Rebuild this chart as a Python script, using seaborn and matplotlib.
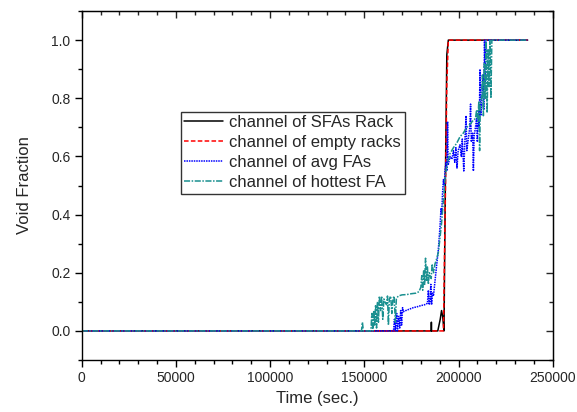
import numpy as np
import pandas as pd
import matplotlib
matplotlib.use("Agg")
import matplotlib.pyplot as plt
import seaborn as sns
from matplotlib.ticker import MultipleLocator

# channel of SFAs Rack
t_sfa = [0, 185500, 185600, 185700, 189000, 190300, 191000, 191600, 192300,
         193000, 193800, 194600, 236700]
v_sfa = [0, 0, 0.03, 0, 0, 0.04, 0.07, 0.05, 0, 0.5, 0.95, 1.0, 1.0]

# channel of empty racks
t_empty = [0, 192000, 193000, 193800, 194600, 236700]
v_empty = [0, 0, 0.45, 0.85, 1.0, 1.0]

# channel of avg FAs
t_avg = [0, 164000, 165500, 166000, 166500, 167200, 167600, 168200, 168800,
         169300, 169800, 170300, 170700, 172000, 174000, 176000, 178000,
         180000, 182000, 183500, 184000, 184400, 184900, 185300, 185700,
         186200, 186700, 187500, 188300, 189300, 190200, 190700, 191100,
         191500, 192000, 192500, 192800, 193400, 193800, 194200, 194500,
         195500, 196500, 197300, 198000, 198600, 199200, 199800, 200800,
         201500, 202000, 202800, 203300, 204000, 204400, 205200, 206000,
         206400, 206800, 207500, 207900, 208300, 209000, 209600, 210000,
         210600, 211000, 211400, 211800, 212400, 213000, 213400, 213800,
         214200, 214600, 236700]
v_avg = [0, 0, 0, 0.04, 0, 0.06, 0, 0.05, 0.01,
         0.07, 0.02, 0.08, 0.066, 0.07, 0.075, 0.08, 0.083,
         0.087, 0.09, 0.095, 0.14, 0.09, 0.10, 0.16, 0.09,
         0.13, 0.12, 0.17, 0.22, 0.28, 0.36, 0.42, 0.40,
         0.47, 0.52, 0.50, 0.55, 0.58, 0.55, 0.72, 0.57,
         0.60, 0.59, 0.62, 0.58, 0.63, 0.56, 0.62, 0.64,
         0.60, 0.66, 0.55, 0.64, 0.74, 0.62, 0.66, 0.70,
         0.78, 0.65, 0.68, 0.55, 0.67, 0.70, 0.73, 0.65,
         0.76, 0.70, 0.90, 0.74, 0.80, 0.88, 0.76, 1.0,
         0.85, 1.0, 1.0]

# channel of hottest FA
t_hot = [0, 148500, 149000, 149500, 153500, 154000, 154500, 155000, 155500,
         156000, 156500, 157000, 157500, 158000, 158600, 159200, 159800,
         160400, 161000, 161800, 162300, 162800, 163300, 164000, 164600,
         165200, 165800, 166500, 167000, 168000, 170000, 172500, 175000,
         177500, 179000, 180000, 180500, 181000, 181500, 182000, 182500,
         183000, 183500, 184000, 184500, 185500, 186000, 186800, 187500,
         188500, 189300, 190000, 191000, 192000, 192800, 193600, 194600,
         195500, 197300, 199000, 200800, 202500, 204400, 206000, 207900,
         209000, 209600, 210200, 210800, 211200, 211600, 212200, 212700,
         213200, 213700, 214200, 214700, 215200, 215700, 216200, 216700,
         217200, 217700, 218500, 236700]
v_hot = [0, 0, 0.03, 0, 0, 0.06, 0, 0.07, 0.02,
         0.09, 0.01, 0.10, 0.03, 0.12, 0.07, 0.12, 0.04,
         0.11, 0.10, 0.09, 0.12, 0.02, 0.11, 0.12, 0.06,
         0.11, 0.12, 0.03, 0.11, 0.12, 0.124, 0.125, 0.128,
         0.13, 0.135, 0.15, 0.19, 0.14, 0.21, 0.16, 0.25,
         0.17, 0.22, 0.16, 0.20, 0.18, 0.23, 0.20, 0.23,
         0.25, 0.27, 0.31, 0.37, 0.45, 0.52, 0.56, 0.59,
         0.61, 0.63, 0.645, 0.668, 0.68, 0.70, 0.71, 0.725,
         0.73, 0.76, 0.72, 0.79, 0.62, 0.78, 0.80, 0.88,
         0.74, 0.92, 0.80, 1.0, 0.75, 0.97, 0.84, 1.0,
         0.80, 1.0, 1.0, 1.0]

series = [
    ("channel of SFAs Rack", t_sfa, v_sfa, "black", "-"),
    ("channel of empty racks", t_empty, v_empty, "#ff0000", (0, (3, 1.5))),
    ("channel of avg FAs", t_avg, v_avg, "#0000ff", (0, (1, 0.6))),
    ("channel of hottest FA", t_hot, v_hot, "#1a9090", (0, (4, 1, 1, 1))),
]

sns.set_style("ticks")
plt.rcParams["font.family"] = ["Liberation Sans", "DejaVu Sans"]

fig = plt.figure(figsize=(5.77, 4.12), dpi=100)
ax = fig.add_axes([0.1416, 0.1262, 0.8163, 0.847])

for name, t, v, col, ls in series:
    df = pd.DataFrame({"t": t, "v": v})
    sns.lineplot(data=df, x="t", y="v", ax=ax, color=col, linestyle=ls,
                 linewidth=1.1, estimator=None, sort=False, label=name)

ax.set_xlim(0, 250000)
ax.set_ylim(-0.1, 1.1)
ax.xaxis.set_major_locator(MultipleLocator(50000))
ax.xaxis.set_minor_locator(MultipleLocator(10000))
ax.yaxis.set_major_locator(MultipleLocator(0.2))
ax.yaxis.set_minor_locator(MultipleLocator(0.1))
ax.yaxis.set_major_formatter(matplotlib.ticker.FormatStrFormatter("%.1f"))
ax.tick_params(which="major", direction="out", length=5, width=1,
               labelsize=10, color="black", pad=3)
ax.tick_params(which="minor", direction="out", length=3, width=1,
               color="black")
for s in ax.spines.values():
    s.set_visible(True)
    s.set_linewidth(1)
    s.set_color("black")

# mirrored ticks on top and right, pointing inward
top = ax.secondary_xaxis("top")
top.xaxis.set_major_locator(MultipleLocator(50000))
top.xaxis.set_minor_locator(MultipleLocator(10000))
top.tick_params(which="major", direction="in", length=5, width=1, labeltop=False)
top.tick_params(which="minor", direction="in", length=3, width=1)
right = ax.secondary_yaxis("right")
right.yaxis.set_major_locator(MultipleLocator(0.2))
right.yaxis.set_minor_locator(MultipleLocator(0.1))
right.tick_params(which="major", direction="in", length=5, width=1, labelright=False)
right.tick_params(which="minor", direction="in", length=3, width=1)

ax.set_xlabel("Time (sec.)", fontsize=12, labelpad=4)
ax.set_ylabel("Void Fraction", fontsize=12, labelpad=14)

leg = ax.legend(loc="upper left", bbox_to_anchor=(0.211, 0.711),
                borderaxespad=0, fontsize=12, frameon=True, fancybox=False,
                edgecolor="black", handlelength=2.3, handletextpad=0.4,
                borderpad=0.2, labelspacing=0.3)
leg.get_frame().set_linewidth(1)

fig.savefig("out.png", dpi=100)
